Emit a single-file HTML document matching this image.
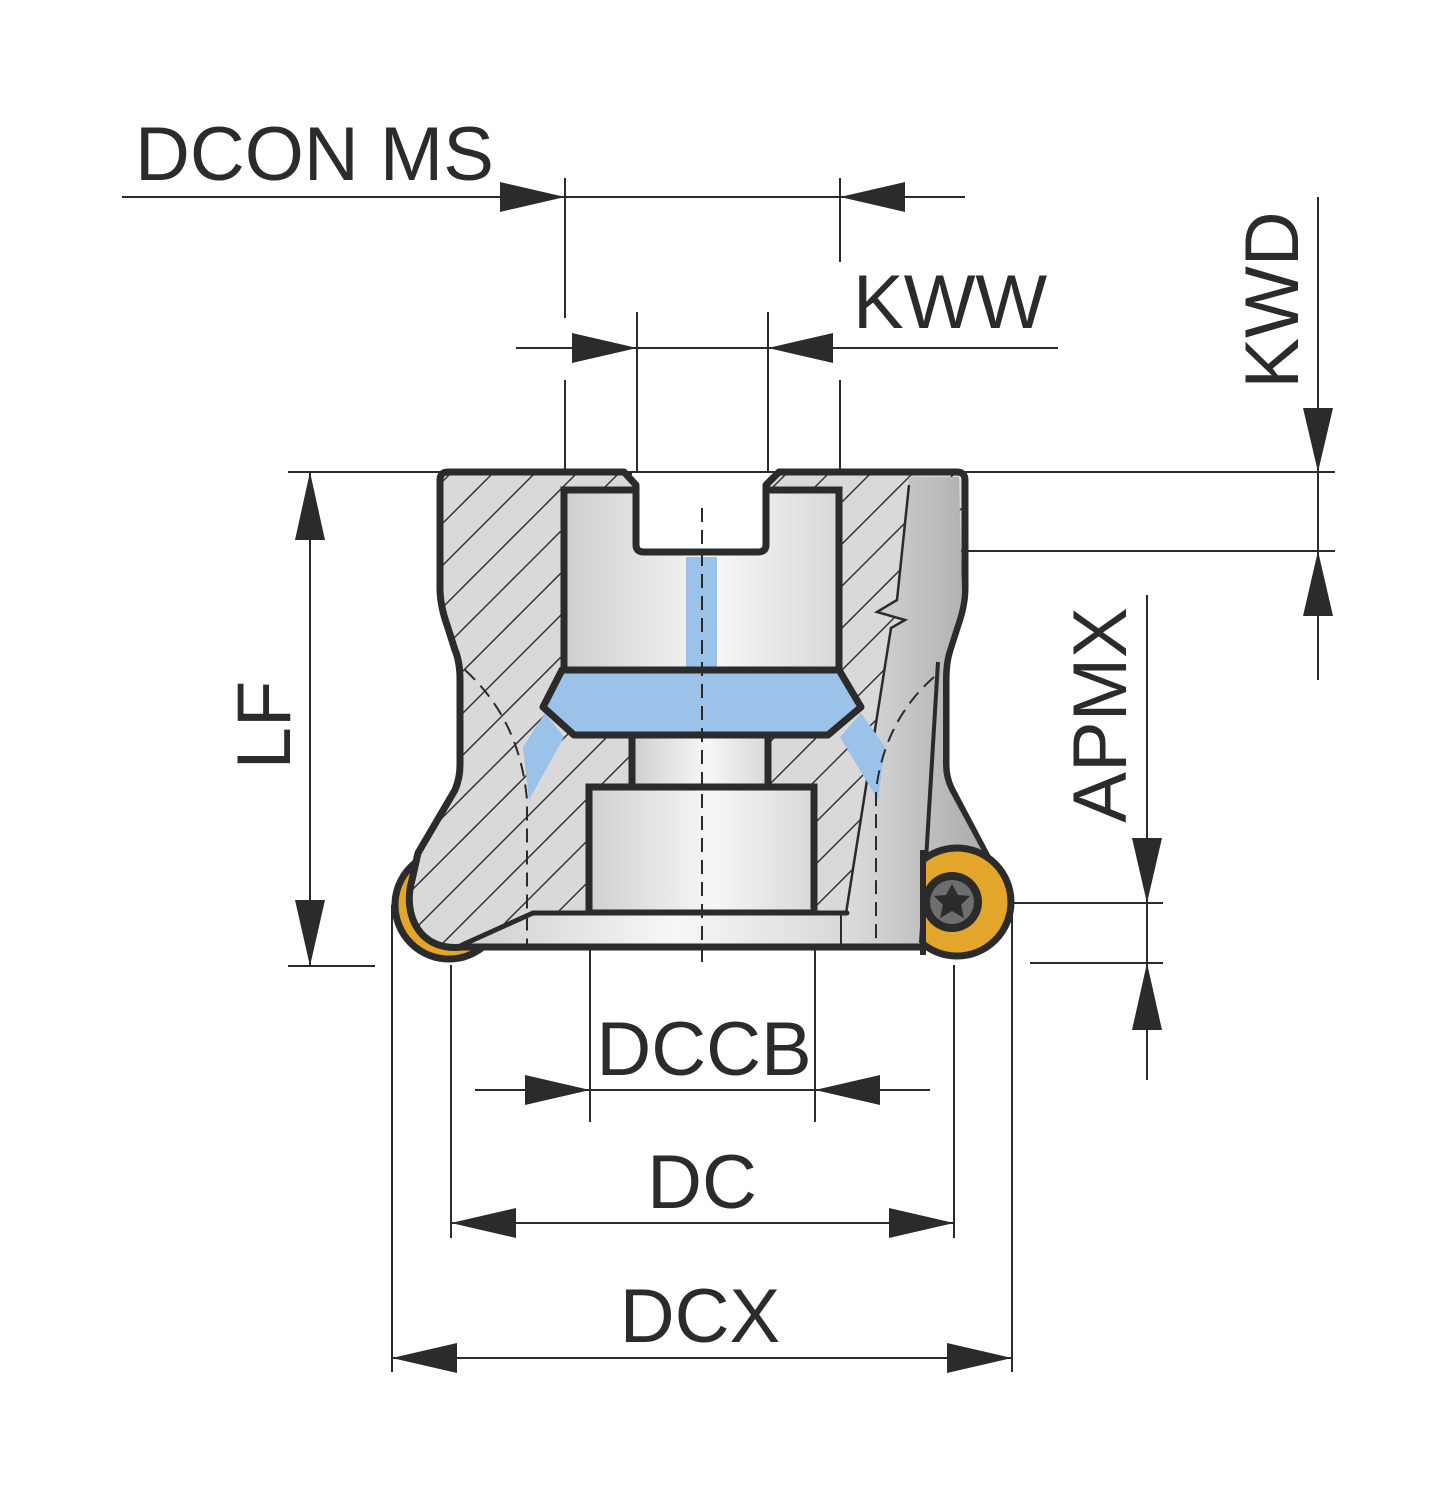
<!DOCTYPE html>
<html><head><meta charset="utf-8"><style>
html,body{margin:0;padding:0;background:#fff;}
svg{display:block}
text{font-family:"Liberation Sans",sans-serif;fill:#2b2b2b;font-size:76px}
</style></head><body>
<svg width="1456" height="1500" viewBox="0 0 1456 1500" xmlns="http://www.w3.org/2000/svg">
<defs>
<pattern id="h" patternUnits="userSpaceOnUse" width="42" height="42">
<rect width="42" height="42" fill="#d9d9d9"/>
<path d="M-10,10 L10,-10 M0,42 L42,0 M32,52 L52,32" stroke="#2b2b2b" stroke-width="1.4"/>
</pattern>
<linearGradient id="g" x1="0" x2="1"><stop offset="0" stop-color="#cfcfcf"/><stop offset="0.55" stop-color="#f7f7f7"/><stop offset="1" stop-color="#d8d8d8"/></linearGradient>
<linearGradient id="gr" x1="0" x2="1"><stop offset="0" stop-color="#dedede"/><stop offset="1" stop-color="#a9a9a9"/></linearGradient>
<clipPath id="rc"><rect x="923" y="800" width="200" height="200"/></clipPath>
</defs>
<g stroke="#2b2b2b" stroke-width="2" fill="none">
<line x1="122" y1="197" x2="965" y2="197"/>
<line x1="565" y1="178" x2="565" y2="318"/>
<line x1="840" y1="178" x2="840" y2="262"/>
<line x1="516" y1="348" x2="1058" y2="348"/>
<line x1="637" y1="312" x2="637" y2="472"/>
<line x1="768" y1="312" x2="768" y2="472"/>
<line x1="565" y1="380" x2="565" y2="472"/>
<line x1="840" y1="380" x2="840" y2="472"/>
<line x1="1318" y1="197" x2="1318" y2="680"/>
<line x1="288" y1="472" x2="1335" y2="472"/>
<line x1="770" y1="551" x2="1335" y2="551"/>
<line x1="310" y1="472" x2="310" y2="966"/>
<line x1="288" y1="966" x2="375" y2="966"/>
<line x1="1147" y1="595" x2="1147" y2="1080"/>
<line x1="1012" y1="903" x2="1163" y2="903"/>
<line x1="1030" y1="963" x2="1163" y2="963"/>
<line x1="475" y1="1090" x2="930" y2="1090"/>
<line x1="590" y1="947" x2="590" y2="1122"/>
<line x1="815" y1="947" x2="815" y2="1122"/>
<line x1="451" y1="1223" x2="954" y2="1223"/>
<line x1="451" y1="965" x2="451" y2="1238"/>
<line x1="954" y1="965" x2="954" y2="1238"/>
<line x1="392" y1="1358" x2="1012" y2="1358"/>
<line x1="392" y1="905" x2="392" y2="1372"/>
<line x1="1012" y1="905" x2="1012" y2="1372"/>
</g>
<g fill="#2b2b2b">
<polygon points="565,197 500,182 500,212"/>
<polygon points="840,197 905,182 905,212"/>
<polygon points="637,348 572,333 572,363"/>
<polygon points="768,348 833,333 833,363"/>
<polygon points="1318,472 1303,408 1333,408"/>
<polygon points="1318,551 1303,616 1333,616"/>
<polygon points="310,472 295,540 325,540"/>
<polygon points="310,966 295,900 325,900"/>
<polygon points="1147,903 1132,838 1162,838"/>
<polygon points="1147,963 1132,1030 1162,1030"/>
<polygon points="590,1090 525,1075 525,1105"/>
<polygon points="815,1090 880,1075 880,1105"/>
<polygon points="451,1223 516,1208 516,1238"/>
<polygon points="954,1223 889,1208 889,1238"/>
<polygon points="392,1358 457,1343 457,1373"/>
<polygon points="1012,1358 947,1343 947,1373"/>
</g>
<text x="135" y="180">DCON MS</text>
<text x="853" y="328">KWW</text>
<text x="704" y="1075" text-anchor="middle">DCCB</text>
<text x="702" y="1208" text-anchor="middle">DC</text>
<text x="700" y="1342" text-anchor="middle">DCX</text>
<text transform="translate(1298,300) rotate(-90)" text-anchor="middle">KWD</text>
<text transform="translate(290,725) rotate(-90)" text-anchor="middle">LF</text>
<text transform="translate(1126,715) rotate(-90)" text-anchor="middle">APMX</text>

<circle cx="449" cy="905" r="54" fill="#e3a52a" stroke="#2b2b2b" stroke-width="7"/>
<path d="M440,480 Q440,472 448,472 L624,472 L636,485 L636,545 Q636,552 644,552 L758,552 Q766,552 766,545 L766,485 L779,472 L957,472 Q965,472 965,480 L965,588 Q965,605 958,625 L950,650 Q946,662 946,680 L946,765 Q946,778 952,790 L990,862 L921,947 L462,947 C420,952 402,915 412,880 L418,853 L455,790 Q460,778 460,765 L460,680 Q460,662 455,650 L447,625 Q440,605 440,588 Z" fill="url(#h)" stroke="#2b2b2b" stroke-width="7" stroke-linejoin="round"/>
<path d="M909,477 L959,477 L962,590 Q962,605 955,625 L947,650 Q943,662 943,680 L943,765 Q943,778 949,790 L988,862 L921,944 L841,944 L891,628 L905,620 L877,612 L897,600 Z" fill="url(#gr)"/>
<path d="M909,485 L897,600 L877,612 L905,620 L891,628 L841,945" fill="none" stroke="#2b2b2b" stroke-width="2.5"/>
<path d="M938,662 L921,943" fill="none" stroke="#2b2b2b" stroke-width="4"/>
<path d="M564,490 L564,670 L839,670 L839,490 L766,490 L766,545 Q766,552 758,552 L644,552 Q636,552 636,545 L636,490 Z" fill="url(#g)"/>
<path d="M636,490 L564,490 L564,670 M766,490 L839,490 L839,670" fill="none" stroke="#2b2b2b" stroke-width="7"/>
<path d="M636,485 L636,545 Q636,552 644,552 L758,552 Q766,552 766,545 L766,485" fill="none" stroke="#2b2b2b" stroke-width="7"/>
<line x1="440" y1="474" x2="632" y2="474" stroke="#2b2b2b" stroke-width="2"/>
<rect x="686" y="557" width="31" height="110" fill="#9bc2e8"/>
<polygon points="545,713 564,737 529,800 523,747" fill="#9bc2e8"/>
<polygon points="861,713 840,737 878,800 885,747" fill="#9bc2e8"/>
<rect x="632" y="735" width="136" height="52" fill="url(#g)" stroke="#2b2b2b" stroke-width="7"/>
<rect x="589" y="787" width="225" height="126" fill="url(#g)" stroke="#2b2b2b" stroke-width="7"/>
<path d="M533,913 L847,913 L847,944 L466,944 Z" fill="url(#g)"/>
<path d="M462,945 L533,913 L847,913" fill="none" stroke="#2b2b2b" stroke-width="5" stroke-linecap="round"/>
<line x1="841" y1="913" x2="841" y2="944" stroke="#2b2b2b" stroke-width="2"/>
<polygon points="562,670 839,670 861,707 828,735 574,735 543,707" fill="#9bc2e8" stroke="#2b2b2b" stroke-width="7" stroke-linejoin="round"/>
<g fill="none" stroke="#2b2b2b" stroke-width="2" stroke-dasharray="14,8">
<line x1="702" y1="508" x2="702" y2="962"/>
<path d="M465,670 Q520,720 527,800 L527,945"/>
<path d="M934,677 Q885,720 876,790 L876,945"/>
</g>
<path d="M921,947 L462,947" stroke="#2b2b2b" stroke-width="7" fill="none"/>
<g clip-path="url(#rc)">
<circle cx="957" cy="902" r="54" fill="#e3a52a" stroke="#2b2b2b" stroke-width="7"/>
<circle cx="952" cy="902" r="30" fill="#2b2b2b"/>
<circle cx="952" cy="902" r="22" fill="#6e6e6e"/>
<polygon points="952,884 958,895 970,896 961,905 964,918 952,911 940,918 943,905 934,896 946,895" fill="#2b2b2b"/>
</g>
<line x1="923" y1="850" x2="923" y2="955" stroke="#2b2b2b" stroke-width="6"/>
</svg>
</body></html>
